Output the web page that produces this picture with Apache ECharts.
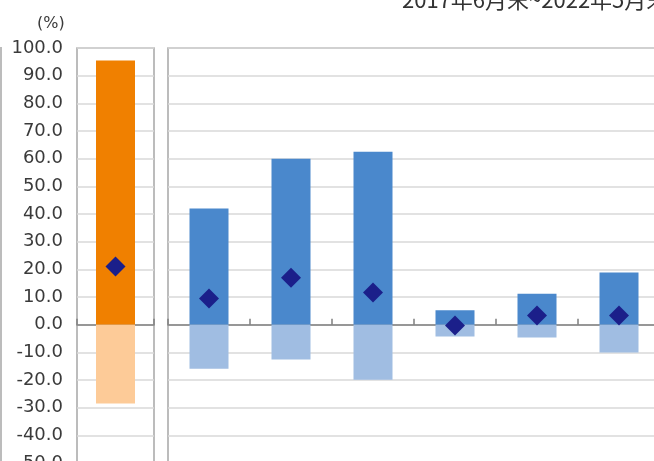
<!DOCTYPE html>
<html>
<head>
<meta charset="utf-8">
<script src="https://cdn.jsdelivr.net/npm/echarts@6/dist/echarts.min.js"></script>
<style>
  html, body { margin: 0; padding: 0; background: #ffffff; overflow: hidden; }
  #chart { width: 720px; height: 500px; }
</style>
</head>
<body>
<div id="chart"></div>
<script>
// Left panel: single benchmark column
const leftCategories = [''];
const leftUp = [95.5];
const leftDown = [-28.5];
const leftMark = [21.0];

// Right panel: six comparison columns
const rightCategories = ['A', 'B', 'C', 'D', 'E', 'F'];
const rightUp = [42.0, 60.0, 62.5, 5.2, 11.2, 18.9];
const rightDown = [-15.9, -12.6, -19.9, -4.3, -4.6, -10.1];
const rightMark = [9.5, 17.0, 11.6, -0.3, 3.3, 3.3];

// Value axis ticks
const yMin = -50, yMax = 100, yStep = 10;

const periodText = '2017年6月末~2022年5月末';
const unitText = '(%)';

const chart = echarts.init(document.getElementById('chart'), null, { renderer: 'canvas' });

const gridStyle = { show: true, borderColor: '#a6a6a6', borderWidth: 1.5, backgroundColor: '#ffffff' };

function valueAxis(gridIndex, showLabels) {
  return {
    type: 'value', gridIndex, min: yMin, max: yMax, interval: yStep,
    axisLine: { show: false }, axisTick: { show: false },
    axisLabel: {
      show: showLabels, margin: 14, color: '#3a3a3a',
      fontFamily: 'DejaVu Sans', fontSize: 18,
      formatter: v => v.toFixed(1)
    },
    splitLine: { lineStyle: { color: '#d9d9d9', width: 1.5 } }
  };
}

function categoryAxis(gridIndex, data) {
  return {
    type: 'category', gridIndex, data,
    axisLine: { onZero: true, lineStyle: { color: '#7f7f7f', width: 1.5 } },
    axisTick: { show: true, inside: true, length: 6, lineStyle: { color: '#7f7f7f', width: 1.5 } },
    axisLabel: { show: false }, splitLine: { show: false }
  };
}

function barPair(axisIndex, up, down, upColor, downColor) {
  return [
    { type: 'bar', xAxisIndex: axisIndex, yAxisIndex: axisIndex, data: up,
      barWidth: 39, barGap: '-100%', itemStyle: { color: upColor }, z: 2 },
    { type: 'bar', xAxisIndex: axisIndex, yAxisIndex: axisIndex, data: down,
      barWidth: 39, barGap: '-100%', itemStyle: { color: downColor }, z: 2 }
  ];
}

function marks(axisIndex, data) {
  return { type: 'scatter', xAxisIndex: axisIndex, yAxisIndex: axisIndex, data,
    symbol: 'diamond', symbolSize: 20, itemStyle: { color: '#1b1f8a', opacity: 1 }, z: 5 };
}

chart.setOption({
  animation: false,
  backgroundColor: '#ffffff',
  grid: [
    Object.assign({ left: 77, top: 48, width: 77, height: 415 }, gridStyle),
    Object.assign({ left: 168, top: 48, width: 492, height: 415 }, gridStyle)
  ],
  xAxis: [categoryAxis(0, leftCategories), categoryAxis(1, rightCategories)],
  yAxis: [valueAxis(0, true), valueAxis(1, false)],
  series: [
    ...barPair(0, leftUp, leftDown, '#f08000', '#fdcb98'),
    marks(0, leftMark),
    ...barPair(1, rightUp, rightDown, '#4a88cc', '#a0bde2'),
    marks(1, rightMark)
  ],
  graphic: [
    { type: 'text', left: 37, top: 16,
      style: { text: unitText, fontFamily: 'DejaVu Sans', fontSize: 16, fill: '#3a3a3a' } },
    { type: 'text', x: 402, y: 11,
      style: { text: periodText, fontFamily: 'Noto Sans CJK JP', fontSize: 22, fill: '#333333',
               verticalAlign: 'bottom' } },
    { type: 'line', shape: { x1: 1, y1: 47, x2: 1, y2: 500 },
      style: { stroke: '#a6a6a6', lineWidth: 1.5 } }
  ]
});
</script>
</body>
</html>
